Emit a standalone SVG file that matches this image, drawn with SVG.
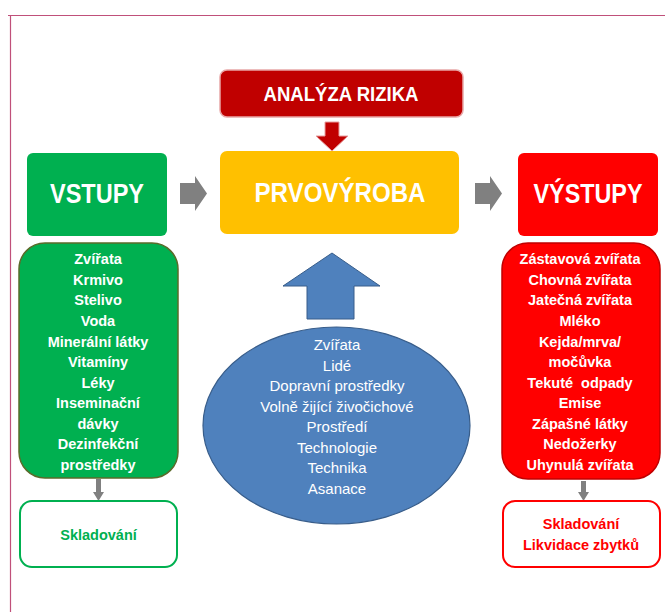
<svg xmlns="http://www.w3.org/2000/svg" width="665" height="612" viewBox="0 0 665 612">
<style>
text{font-family:"Liberation Sans",Arial,sans-serif;text-anchor:middle}
.w{fill:#fff;font-weight:bold}
.title{font-size:27px}
.list{font-size:14.5px}
.ell{fill:#fff;font-size:15px}
.gray{fill:#808080}
</style>
<rect width="665" height="612" fill="#fff"/>
<path d="M8 15.5H665M10.5 15V612" stroke="#C0507A" stroke-width="1.2" fill="none"/>

<g id="connectors">
  <polygon class="gray" points="180,183 195,183 195,176 207,193.5 195,211 195,204 180,204"/>
  <polygon class="gray" points="475,183 490,183 490,176 502,193.5 490,211 490,204 475,204"/>
  <polygon points="325,122 339,122 339,136 348,136 332,151 316,136 325,136" fill="#C00000" stroke="#E8A0A0" stroke-width="1"/>
  <polygon points="332,253 380,286 354,286 354,319 307,319 307,286 283,286" fill="#4F81BD" stroke="#385D8A" stroke-width="1"/>
  <polygon class="gray" points="96,479 101,479 101,492 104,492 98.5,501 93,492 96,492"/>
  <polygon class="gray" points="581,481 586,481 586,492 589,492 583.5,501 578,492 581,492"/>
</g>

<g id="analyza">
  <rect x="220" y="70" width="243" height="47" rx="7" fill="#C00000" stroke="#E8A8A8" stroke-width="1.5"/>
  <text class="w" x="341" y="101" font-size="19.5" textLength="155" lengthAdjust="spacingAndGlyphs">ANALÝZA RIZIKA</text>
</g>

<g id="vstupy">
  <rect x="27" y="153" width="140" height="83" rx="6" fill="#00B050"/>
  <text class="w title" x="97" y="203" textLength="94" lengthAdjust="spacingAndGlyphs">VSTUPY</text>
</g>

<g id="prvovyroba">
  <rect x="220" y="151" width="239" height="83" rx="7" fill="#FFC000"/>
  <text class="w title" x="340" y="202" textLength="171" lengthAdjust="spacingAndGlyphs">PRVOVÝROBA</text>
</g>

<g id="vystupy">
  <rect x="518" y="153" width="140" height="83" rx="6" fill="#FF0000"/>
  <text class="w title" x="588" y="203" textLength="109" lengthAdjust="spacingAndGlyphs">VÝSTUPY</text>
</g>

<g id="vstupy-list">
  <rect x="19" y="243" width="159" height="235" rx="26" fill="#00B050" stroke="#5A6B2A" stroke-width="1.5"/>
  <text class="w list" x="98" y="264">Zvířata</text>
  <text class="w list" x="98" y="284.5">Krmivo</text>
  <text class="w list" x="98" y="305">Stelivo</text>
  <text class="w list" x="98" y="326">Voda</text>
  <text class="w list" x="98" y="347">Minerální látky</text>
  <text class="w list" x="98" y="367">Vitamíny</text>
  <text class="w list" x="98" y="388">Léky</text>
  <text class="w list" x="98" y="408">Inseminační</text>
  <text class="w list" x="98" y="429">dávky</text>
  <text class="w list" x="98" y="449">Dezinfekční</text>
  <text class="w list" x="98" y="470">prostředky</text>
</g>

<g id="vystupy-list">
  <rect x="502" y="243" width="158" height="236" rx="26" fill="#FF0000" stroke="#C00000" stroke-width="1.5"/>
  <text class="w list" x="580" y="264">Zástavová zvířata</text>
  <text class="w list" x="580" y="284.5">Chovná zvířata</text>
  <text class="w list" x="580" y="305">Jatečná zvířata</text>
  <text class="w list" x="580" y="326">Mléko</text>
  <text class="w list" x="580" y="347">Kejda/mrva/</text>
  <text class="w list" x="580" y="367">močůvka</text>
  <text class="w list" x="580" y="388" xml:space="preserve">Tekuté  odpady</text>
  <text class="w list" x="580" y="408">Emise</text>
  <text class="w list" x="580" y="429">Zápašné látky</text>
  <text class="w list" x="580" y="449">Nedožerky</text>
  <text class="w list" x="580" y="470">Uhynulá zvířata</text>
</g>

<g id="skladovani-in">
  <rect x="20" y="501" width="157" height="66" rx="12" fill="#fff" stroke="#00B050" stroke-width="2"/>
  <text x="98.5" y="540" font-size="14.5" font-weight="bold" fill="#00B050">Skladování</text>
</g>

<g id="skladovani-out">
  <rect x="503" y="501" width="157" height="66" rx="12" fill="#fff" stroke="#FF0000" stroke-width="2"/>
  <text x="581" y="529" font-size="14.5" font-weight="bold" fill="#FF0000">Skladování</text>
  <text x="581" y="550" font-size="14.5" font-weight="bold" fill="#FF0000">Likvidace zbytků</text>
</g>

<g id="faktory">
  <ellipse cx="336.5" cy="425.5" rx="133.5" ry="98.5" fill="#4F81BD" stroke="#385D8A" stroke-width="1.2"/>
  <text class="ell" x="337" y="350">Zvířata</text>
  <text class="ell" x="337" y="370.5">Lidé</text>
  <text class="ell" x="337" y="391">Dopravní prostředky</text>
  <text class="ell" x="337" y="412">Volně žijící živočichové</text>
  <text class="ell" x="337" y="432">Prostředí</text>
  <text class="ell" x="337" y="452.5">Technologie</text>
  <text class="ell" x="337" y="473">Technika</text>
  <text class="ell" x="337" y="493.5">Asanace</text>
</g>
</svg>
